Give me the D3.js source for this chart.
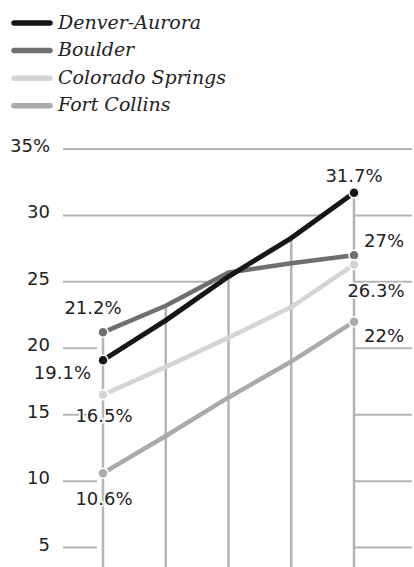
<!DOCTYPE html>
<html>
<head>
<meta charset="utf-8">
<script src="https://d3js.org/d3.v7.min.js"></script>
<style>
  body { margin: 0; background: #fff; }
  svg { display: block; }
</style>
</head>
<body>
<div id="chart"></div>
<script>
  // data
  var steps = ["p1", "p2", "p3", "p4", "p5"];
  var seriesNames = ["Denver-Aurora", "Boulder", "Colorado Springs", "Fort Collins"];
  var denver = [19.1, 22.1, 25.4, 28.3, 31.7];
  var boulder = [21.2, 23.2, 25.7, 26.4, 27.0];
  var coloradoSprings = [16.5, 18.6, 20.8, 23.1, 26.3];
  var fortCollins = [10.6, 13.4, 16.3, 19.0, 22.0];
  var firstLabels = ["19.1%", "21.2%", "16.5%", "10.6%"];
  var lastLabels = ["31.7%", "27%", "26.3%", "22%"];
  var yTicks = [5, 10, 15, 20, 25, 30, 35];

  var W = 414, H = 567;
  var colors = ["#161616", "#6f6f71", "#d4d4d4", "#aaaaaa"];
  var widths = [5, 4.5, 4.5, 4.5];
  var values = [denver, boulder, coloradoSprings, fortCollins];

  var series = seriesNames.map(function(n, i) {
    return { name: n, values: values[i], color: colors[i], width: widths[i],
             first: firstLabels[i], last: lastLabels[i] };
  });

  // label placement (dx, dy, anchor) relative to the dots
  var firstPos = [[-12, 19, "end"], [-10, -18, "middle"], [1, 27, "middle"], [1, 32, "middle"]];
  var lastPos = [[0, -11, "middle"], [10, -8, "start"], [22, 32, "middle"], [10, 20, "start"]];

  var svg = d3.select("#chart").append("svg")
    .attr("width", W)
    .attr("height", H);

  var x = d3.scalePoint().domain(steps).range([103, 354]);
  var y = d3.scaleLinear().domain([0, 35]).range([614, 149]);

  var grid = "#b4b4b4";
  var ink = "#222";

  // horizontal gridlines
  svg.append("g").selectAll("line")
    .data(yTicks).enter().append("line")
      .attr("x1", 63).attr("x2", 412)
      .attr("y1", function(d) { return y(d); })
      .attr("y2", function(d) { return y(d); })
      .attr("stroke", grid)
      .attr("stroke-width", 2);

  // tick labels
  svg.append("g").selectAll("text")
    .data(yTicks).enter().append("text")
      .attr("x", 50)
      .attr("y", function(d) { return y(d) + 3; })
      .attr("text-anchor", "end")
      .style("font-family", "'DejaVu Sans', sans-serif")
      .style("font-size", "18px")
      .attr("fill", ink)
      .text(function(d) { return d == 35 ? d + "%" : d; });

  // white area under the top envelope hides the gridlines
  var env = steps.map(function(s, i) {
    return { s: s, v: d3.max(values, function(a) { return a[i]; }) };
  });
  var area = d3.area()
    .x(function(d) { return x(d.s); })
    .y0(H)
    .y1(function(d) { return y(d.v); });
  svg.append("path").datum(env)
    .attr("d", area)
    .attr("fill", "#fff");
  svg.append("rect")
    .attr("x", x(steps[0]) - 6).attr("width", 7)
    .attr("y", y(env[0].v)).attr("height", H)
    .attr("fill", "#fff");

  // vertical gridlines from the envelope down
  svg.append("g").selectAll("line")
    .data(env).enter().append("line")
      .attr("x1", function(d) { return x(d.s); })
      .attr("x2", function(d) { return x(d.s); })
      .attr("y1", function(d) { return y(d.v); })
      .attr("y2", H)
      .attr("stroke", grid)
      .attr("stroke-width", 2.5);

  var line = d3.line()
    .x(function(d, i) { return x(steps[i]); })
    .y(function(d) { return y(d); });

  var drawOrder = [3, 2, 1, 0];

  svg.append("g").selectAll("path")
    .data(drawOrder.map(function(i) { return series[i]; }))
    .enter().append("path")
      .attr("d", function(d) { return line(d.values); })
      .attr("fill", "none")
      .attr("stroke", function(d) { return d.color; })
      .attr("stroke-width", function(d) { return d.width; })
      .attr("stroke-linejoin", "round");

  // dots at both ends (Colorado Springs sits over Boulder at the right end)
  [3, 1, 2, 0].forEach(function(i) {
    var s = series[i];
    [0, steps.length - 1].forEach(function(k) {
      svg.append("circle")
        .attr("cx", x(steps[k]))
        .attr("cy", y(s.values[k]))
        .attr("r", 5)
        .attr("fill", s.color)
        .attr("stroke", "#fff")
        .attr("stroke-width", 1.5);
    });
  });

  // value labels
  series.forEach(function(s, i) {
    var ends = [[0, s.first, firstPos[i]], [steps.length - 1, s.last, lastPos[i]]];
    ends.forEach(function(e) {
      svg.append("text")
        .attr("x", x(steps[e[0]]) + e[2][0])
        .attr("y", y(s.values[e[0]]) + e[2][1])
        .attr("text-anchor", e[2][2])
        .style("font-family", "'DejaVu Sans', sans-serif")
        .style("font-size", "18px")
        .attr("fill", ink)
        .attr("stroke", "#fff")
        .attr("stroke-width", 3)
        .style("paint-order", "stroke")
        .text(e[1]);
    });
  });

  // legend
  var legend = svg.append("g").selectAll("g")
    .data(series).enter().append("g")
      .attr("transform", function(d, i) { return "translate(0," + (28.5 + i * 27.6) + ")"; });
  legend.append("line")
    .attr("x1", 14).attr("x2", 50)
    .attr("y1", -5.5).attr("y2", -5.5)
    .attr("stroke", function(d) { return d.color; })
    .attr("stroke-width", 5.5)
    .attr("stroke-linecap", "round");
  legend.append("text")
    .attr("x", 58)
    .attr("y", 0)
    .style("font-family", "'DejaVu Serif', serif")
    .style("font-style", "italic")
    .style("font-size", "19px")
    .attr("fill", ink)
    .text(function(d) { return d.name; });
</script>
</body>
</html>
